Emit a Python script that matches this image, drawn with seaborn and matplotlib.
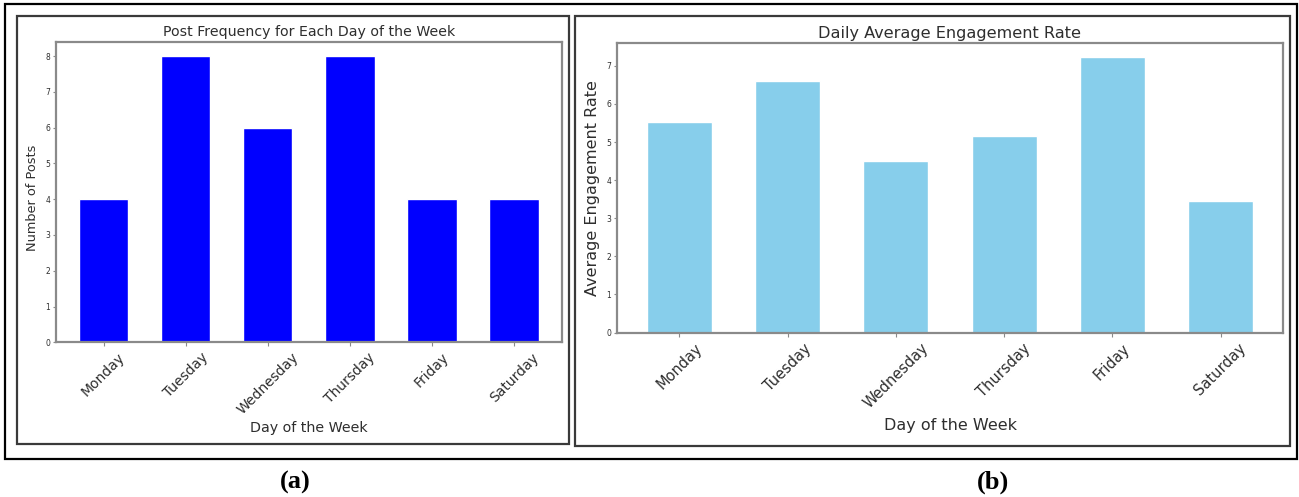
import matplotlib
matplotlib.use("Agg")
import matplotlib.pyplot as plt
from matplotlib.patches import Rectangle
import pandas as pd
import seaborn as sns

days = ["Monday", "Tuesday", "Wednesday", "Thursday", "Friday", "Saturday"]
post_counts = [4, 8, 6, 8, 4, 4]
engagement_rates = [5.52, 6.59, 4.51, 5.15, 7.23, 3.45]

sns.set_style("ticks")
plt.rcParams["font.family"] = ["DejaVu Sans"]

W, H = 1299, 497
fig = plt.figure(figsize=(W / 100, H / 100), dpi=100)
fig.patch.set_facecolor("white")

TEXT = "#2e2e2e"
SPINE = "#8a8a8a"


def px_rect(left, top, right, bottom):
    """Convert a pixel box (origin top-left) to figure fractions."""
    return [left / W, 1 - bottom / H, (right - left) / W, (bottom - top) / H]


def frame(left, top, right, bottom, color, lw):
    x, y, w, h = px_rect(left, top, right, bottom)
    fig.patches.append(Rectangle((x, y), w, h, transform=fig.transFigure,
                                 fill=False, edgecolor=color, linewidth=lw,
                                 zorder=0))


# outer frame and panel frames
frame(5, 4, 1297, 459.3, "black", 1.6)
frame(16.7, 15.7, 568.7, 444, "#3a3a3a", 1.6)
frame(574.7, 15.7, 1290, 445.7, "#3a3a3a", 1.6)


def style_axes(ax, ytick_size, xtick_size):
    for s in ax.spines.values():
        s.set_visible(True)
        s.set_color(SPINE)
        s.set_linewidth(1.6)
    ax.tick_params(axis="y", labelsize=ytick_size, length=2.5, width=0.8,
                   pad=1.5, colors=SPINE, labelcolor=TEXT)
    ax.tick_params(axis="x", labelsize=xtick_size, length=3, width=0.8,
                   pad=3, colors=SPINE, labelcolor=TEXT)
    for lab in ax.get_xticklabels():
        lab.set_rotation(45)
        lab.set_ha("center")
    ax.set_xlim(-0.58, 5.58)


# (a) post frequency
df_a = pd.DataFrame({"day": days, "posts": post_counts})
ax1 = fig.add_axes(px_rect(56, 41.7, 561.7, 342.3))
sns.barplot(data=df_a, x="day", y="posts", color="blue", saturation=1,
            width=0.6, ax=ax1)
ax1.set_ylim(0, 8.4)
ax1.set_yticks(range(0, 9))
style_axes(ax1, 5.5, 10)
ax1.set_title("Post Frequency for Each Day of the Week", fontsize=10.2,
              color=TEXT, pad=4)
ax1.set_xlabel("Day of the Week", fontsize=10.3, color=TEXT)
ax1.set_ylabel("Number of Posts", fontsize=9.3, color=TEXT)
ax1.xaxis.set_label_coords(0.5, -0.262)
ax1.yaxis.set_label_coords(-0.034, 0.48)

# (b) daily average engagement rate
df_b = pd.DataFrame({"day": days, "rate": engagement_rates})
ax2 = fig.add_axes(px_rect(616.7, 43.3, 1283.3, 332.5))
sns.barplot(data=df_b, x="day", y="rate", color="skyblue", saturation=1,
            width=0.6, ax=ax2)
ax2.set_ylim(0, max(engagement_rates) * 1.05)
ax2.set_yticks(range(0, 8))
style_axes(ax2, 5.5, 10.5)
ax2.set_title("Daily Average Engagement Rate", fontsize=11.6, color=TEXT,
              pad=4)
ax2.set_xlabel("Day of the Week", fontsize=11.5, color=TEXT)
ax2.set_ylabel("Average Engagement Rate", fontsize=11.5, color=TEXT)
ax2.xaxis.set_label_coords(0.5, -0.295)
ax2.yaxis.set_label_coords(-0.025, 0.5)

# panel captions
cap_font = dict(family=["Liberation Serif"], weight="bold", fontsize=19,
                color="black", ha="center", va="center")
fig.text(295 / W, 1 - 482 / H, "(a)", **cap_font)
fig.text(993 / W, 1 - 482 / H, "(b)", **cap_font)

fig.savefig("out.png", dpi=100, facecolor="white")
